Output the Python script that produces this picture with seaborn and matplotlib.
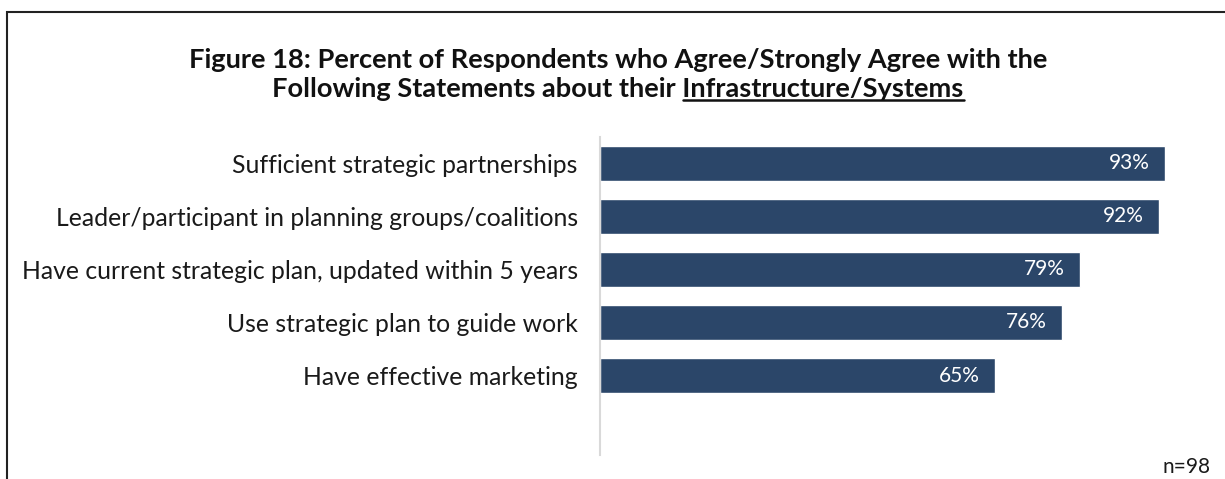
import matplotlib
matplotlib.use("Agg")
import matplotlib.pyplot as plt
import seaborn as sns
import pandas as pd
from matplotlib.patches import Rectangle
from matplotlib.lines import Line2D

# Survey results: share agreeing / strongly agreeing
statements = [
    "Sufficient strategic partnerships",
    "Leader/participant in planning groups/coalitions",
    "Have current strategic plan, updated within 5 years",
    "Use strategic plan to guide work",
    "Have effective marketing",
]
percent_agree = [93, 92, 79, 76, 65]
sample_note = "n=98"
title_line1 = "Figure 18: Percent of Respondents who Agree/Strongly Agree with the"
title_line2_prefix = "Following Statements about their "
title_line2_underlined = "Infrastructure/Systems"

df = pd.DataFrame({"statement": statements, "pct": percent_agree})

sns.set_theme(style="white")
plt.rcParams["font.family"] = ["Lato", "DejaVu Sans"]

W, H = 1225, 479
fig = plt.figure(figsize=(W / 100, H / 100), dpi=100)
fig.patch.set_facecolor("white")

ax = fig.add_axes([600 / W, 1 - 455 / H, 608 / W, (455 - 137) / H])
bar_color = "#2B4669"
sns.barplot(data=df, x="pct", y="statement", orient="h", color=bar_color,
            width=0.67, saturation=1, ax=ax)

ax.set_xlim(0, 100)
ax.set_ylim(5.5, -0.5)
ax.set_xlabel("")
ax.set_ylabel("")
ax.set_xticks([])
for side in ["top", "right", "bottom"]:
    ax.spines[side].set_visible(False)
ax.spines["left"].set_color("#d9d9d9")
ax.spines["left"].set_linewidth(1.5)
ax.tick_params(axis="y", length=0, pad=16, labelsize=17.8, labelcolor="#1a1a1a")

for i, v in enumerate(percent_agree):
    ax.text(v - 2.6, i, f"{v}%", ha="right", va="center", color="white",
            fontsize=15)

# Two-line bold title, second line partly underlined
cx = 618 / W
title_size = 19.6
fig.text(cx, 1 - 60 / H, title_line1, ha="center", va="center",
         fontsize=title_size, fontweight="bold", color="#111111")
t2 = fig.text(cx, 1 - 89 / H, title_line2_prefix + title_line2_underlined,
              ha="center", va="center", fontsize=title_size, fontweight="bold",
              color="#111111")

fig.canvas.draw()
renderer = fig.canvas.get_renderer()
bb = t2.get_window_extent(renderer)
tmp = fig.text(0, 0, title_line2_underlined, fontsize=title_size, fontweight="bold")
w_ul = tmp.get_window_extent(renderer).width
tmp.remove()
y_ul = bb.y0 + 1
fig.add_artist(Line2D([(bb.x1 - w_ul) / W, bb.x1 / W], [y_ul / H, y_ul / H],
                      transform=fig.transFigure, color="#111111", lw=1.8))

fig.text(1210 / W, 1 - 467 / H, sample_note, ha="right", va="center",
         fontsize=15, color="#1a1a1a")

# Frame around the figure
fig.add_artist(Rectangle((6.5 / W, -0.05), 1.2, 1 - 11.5 / H + 0.05,
                         transform=fig.transFigure, fill=False,
                         edgecolor="#222222", lw=1.5))

fig.savefig("out.png", dpi=100, facecolor="white")
